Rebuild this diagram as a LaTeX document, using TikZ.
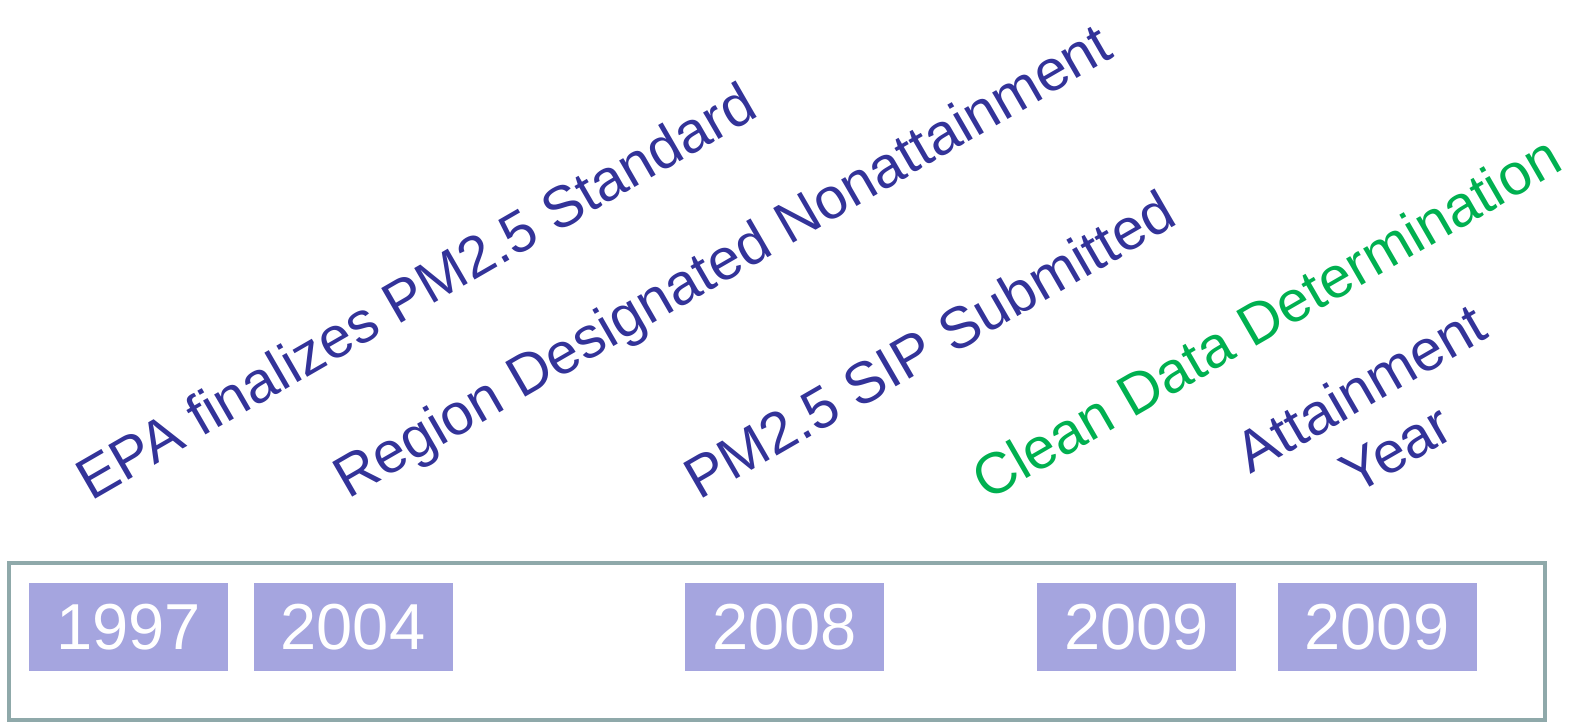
\documentclass[tikz,border=0pt]{standalone}
\usepackage{fontspec}
\setmainfont{Liberation Sans}
\definecolor{lblue}{HTML}{333399}
\definecolor{lgreen}{HTML}{00B050}
\definecolor{yearfill}{HTML}{A5A5DF}
\definecolor{frame}{HTML}{8FA9AA}
\tikzset{
  year/.style={fill=yearfill, text=white, minimum width=199pt, minimum height=88pt, inner sep=0pt,
    font=\fontsize{65}{78}\selectfont},
  lbl/.style={rotate=30, anchor=base west, inner sep=0pt, text=lblue,
    font=\fontsize{58}{70}\selectfont},
}
\begin{document}
\begin{tikzpicture}[x=1pt,y=-1pt]
\useasboundingbox (0,0) rectangle (1585,722);
\draw[frame, line width=4pt] (9,563) rectangle (1545,720);
\node[year] (y1) at (128.5,627) {1997};
\node[year] (y2) at (353,627) {2004};
\node[year] (y3) at (784.5,627) {2008};
\node[year] (y4) at (1136.5,627) {2009};
\node[year] (y5) at (1377,627) {2009};
\node[lbl] (t1) at (91,502) {EPA finalizes PM2.5 Standard};
\node[lbl] (t2) at (348,500) {Region Designated Nonattainment};
\node[lbl] (t3) at (699,501) {PM2.5 SIP Submitted};
\node[lbl, text=lgreen] (t4) at (987,502) {Clean Data Determination};
\node[lbl, anchor=center, align=center] (t5) at (1378,418) {Attainment\\Year};
\end{tikzpicture}
\end{document}
